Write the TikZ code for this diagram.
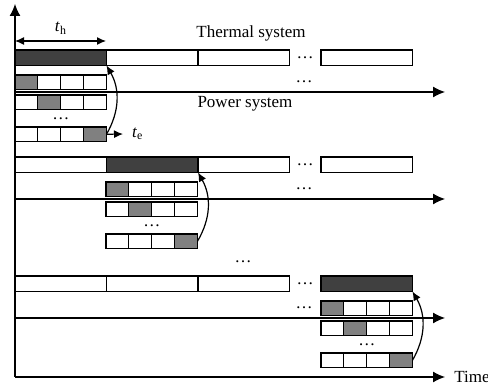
\documentclass[tikz,border=0pt]{standalone}
\usepackage{fontspec}
\setmainfont{Liberation Serif}
\usetikzlibrary{arrows.meta,positioning}

\tikzset{
  slot/.style={draw, fill=white, line width=0.6pt, inner sep=0pt, outer sep=0pt,
    minimum width=45.75pt, minimum height=7.75pt, anchor=north west},
  cell/.style={slot, minimum width=11.44pt, minimum height=7.25pt},
  busy/.style={fill=black!75},
  active/.style={fill=black!50},
  axis/.style={line width=0.6pt, -{Latex[length=6pt,width=5.5pt]}},
  tick arrow/.style={line width=0.6pt, -{Latex[length=4.5pt,width=4pt]}},
  lbl/.style={font=\fontsize{8.5}{10}\selectfont},
  gap/.style={inner sep=0pt, font=\fontsize{8.5}{10}\selectfont}
}

\begin{document}
\begin{tikzpicture}[x=0.5pt, y=-0.5pt]
  \useasboundingbox (0,0) rectangle (488,389);

  % Axes
  \coordinate (o) at (15,377);
  \coordinate (ytop) at (15,4);
  \coordinate (xend) at (445,377);
  \draw[axis] (o) -- (ytop);
  \draw[axis] (o) -- (xend) node[right=1pt, lbl] (time) {Time};

  % Blocks: index / top of thermal row / busy slot / x of power cells
  \foreach \b/\y/\dk/\cx in {1/50/1/15, 2/157/2/106, 3/276/4/321}{
    % power system time line
    \coordinate (pl-\b) at (15,\y+42);
    \coordinate (pr-\b) at (445,\y+42);
    \draw[axis] (pl-\b) -- (pr-\b);

    % thermal slots
    \foreach \k/\sx in {1/15, 2/106.5, 3/198, 4/321}{
      \ifnum\k=\dk
        \node[slot, busy] (th-\b-\k) at (\sx,\y) {};
      \else
        \node[slot] (th-\b-\k) at (\sx,\y) {};
      \fi
    }
    \node[gap] (tdots-\b) at (305,\y+8) {\ldots};

    % power cells
    \foreach \r/\dy/\g in {1/25/1, 2/45/2, 3/77/4}{
      \foreach \k in {1,...,4}{
        \ifnum\k=\g
          \node[cell, active] (c-\b-\r-\k) at ({\cx+(\k-1)*22.875},\y+\dy) {};
        \else
          \node[cell] (c-\b-\r-\k) at ({\cx+(\k-1)*22.875},\y+\dy) {};
        \fi
      }
    }
    \node[gap] (cdots-\b) at (\cx+45.75,\y+69) {\ldots};
    \node[gap] (pdots-\b) at (304,\y+32) {\ldots};

    % hand-over to the thermal slot
    \draw[tick arrow] (c-\b-3-4.east) to[bend right=30] (th-\b-\dk.south east);
  }

  \node[gap] (mdots) at (243,262) {\ldots};

  % Durations
  \coordinate (thl) at (15,41);
  \coordinate (thr) at (106,41);
  \draw[tick arrow, {Latex[length=4.5pt,width=4pt]}-{Latex[length=4.5pt,width=4pt]}] (thl) -- (thr);
  \node[lbl] (th-label) at (61,28) {\textit{t}\textsubscript{h}};
  \coordinate (ter) at (123,134);
  \draw[tick arrow] (c-1-3-4.east) -- (ter);
  \node[lbl, right=1pt of ter] (te-label) {\textit{t}\textsubscript{e}};

  % Titles
  \node[lbl] (thermal) at (251,33) {Thermal system};
  \node[lbl] (power) at (245,104) {Power system};
\end{tikzpicture}
\end{document}
